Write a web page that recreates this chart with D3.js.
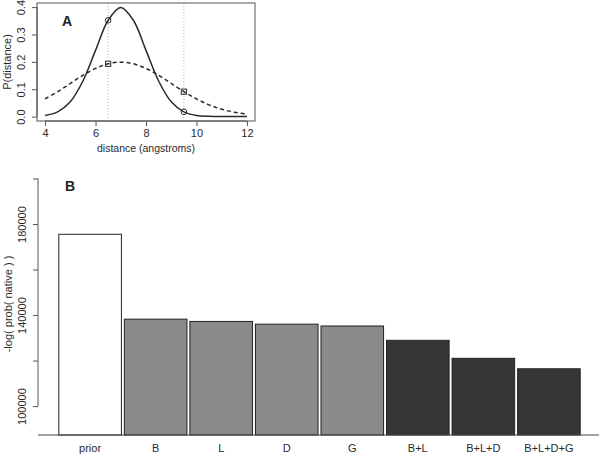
<!DOCTYPE html>
<html>
<head>
<meta charset="utf-8">
<script src="https://cdn.jsdelivr.net/npm/d3@7"></script>
<style>
  body { margin: 0; background: #fff; }
  svg { font-family: "Liberation Sans", Arial, sans-serif; }
</style>
</head>
<body>
<div id="chart"></div>
<script>
// panel A: densities (x in angstroms)
const distX = [4, 4.5, 5, 5.5, 6, 6.5, 7, 7.5, 8, 8.5, 9, 9.5, 10, 10.5, 11, 11.5, 12];
const narrowP = [0.0044, 0.0175, 0.054, 0.130, 0.242, 0.352, 0.399, 0.352, 0.242, 0.130, 0.054, 0.0175, 0.0044, 0.0009, 0.0001, 0, 0];
const wideP = [0.065, 0.091, 0.121, 0.151, 0.176, 0.193, 0.199, 0.193, 0.176, 0.151, 0.121, 0.091, 0.065, 0.043, 0.027, 0.016, 0.009];
const markX = [6.5, 9.5];
const circleP = [0.352, 0.0175];
const squareP = [0.193, 0.091];
const aXTicks = [4, 6, 8, 10, 12];
const aYTicks = [0.0, 0.1, 0.2, 0.3, 0.4];

// panel B: bars
const models = ["prior", "B", "L", "D", "G", "B+L", "B+L+D", "B+L+D+G"];
const energy = [175500, 138200, 137200, 136000, 135200, 128900, 121000, 116400];
const group = ["prior", "single", "single", "single", "single", "combo", "combo", "combo"];
const bYTicks = [100000, 120000, 140000, 160000, 180000, 200000];
const bYLabels = [100000, 140000, 180000];

const W = 600, H = 455;
const ink = "#2a2a2a";

let svg = d3.select("#chart").append("svg")
    .attr("width", W)
    .attr("height", H);

// ---------- panel A ----------
let xA = d3.scaleLinear().domain([3.68, 12.32]).range([37, 255]);
let yA = d3.scaleLinear().domain([-0.016, 0.415]).range([121, 3]);

let gA = svg.append("g");

// dotted verticals
gA.selectAll("line.vline").data(markX).enter()
    .append("line")
    .attr("class", "vline")
    .attr("x1", d => xA(d)).attr("x2", d => xA(d))
    .attr("y1", yA.range()[0]).attr("y2", yA.range()[1])
    .attr("stroke", "#999")
    .attr("stroke-width", 0.8)
    .attr("stroke-dasharray", "1,2");

let line = d3.line()
    .x((d, i) => xA(distX[i]))
    .y(d => yA(d))
    .curve(d3.curveCatmullRom);

gA.append("path")
    .attr("d", line(narrowP))
    .attr("fill", "none")
    .attr("stroke", ink)
    .attr("stroke-width", 1.5);

gA.append("path")
    .attr("d", line(wideP))
    .attr("fill", "none")
    .attr("stroke", ink)
    .attr("stroke-width", 1.5)
    .attr("stroke-dasharray", "4,3");

gA.selectAll("circle.pt").data(circleP).enter()
    .append("circle")
    .attr("class", "pt")
    .attr("cx", (d, i) => xA(markX[i]))
    .attr("cy", d => yA(d))
    .attr("r", 2.8)
    .attr("fill", "none")
    .attr("stroke", ink)
    .attr("stroke-width", 1);

gA.selectAll("rect.pt").data(squareP).enter()
    .append("rect")
    .attr("class", "pt")
    .attr("x", (d, i) => xA(markX[i]) - 2.6)
    .attr("y", d => yA(d) - 2.6)
    .attr("width", 5.2)
    .attr("height", 5.2)
    .attr("fill", "none")
    .attr("stroke", ink)
    .attr("stroke-width", 1);

// frame
gA.append("rect")
    .attr("x", xA.range()[0]).attr("y", yA.range()[1])
    .attr("width", xA.range()[1] - xA.range()[0])
    .attr("height", yA.range()[0] - yA.range()[1])
    .attr("fill", "none")
    .attr("stroke", "#555")
    .attr("stroke-width", 1);

// x axis
let axA = gA.append("g")
    .attr("transform", `translate(0, ${yA.range()[0]})`)
    .call(d3.axisBottom(xA).tickValues(aXTicks).tickSize(5).tickPadding(3));
axA.select(".domain")
    .attr("d", `M${xA(4)},0H${xA(12)}`);

// y axis
let ayA = gA.append("g")
    .attr("transform", `translate(${xA.range()[0]}, 0)`)
    .call(d3.axisLeft(yA).tickValues(aYTicks).tickFormat(d3.format(".1f")).tickSize(5).tickPadding(3));
ayA.select(".domain")
    .attr("d", `M0,${yA(0)}V${yA(0.4)}`);
ayA.selectAll(".tick text")
    .attr("transform", "rotate(-90)")
    .attr("x", 0).attr("y", -12)
    .attr("dy", 0)
    .style("text-anchor", "middle");

gA.append("text")
    .attr("x", 146).attr("y", 152)
    .style("text-anchor", "middle")
    .style("font-size", "10.5px")
    .attr("fill", ink)
    .text("distance (angstroms)");

gA.append("text")
    .attr("transform", `translate(11, ${(yA.range()[0] + yA.range()[1]) / 2}) rotate(-90)`)
    .style("text-anchor", "middle")
    .style("font-size", "11px")
    .attr("fill", ink)
    .text("P(distance)");

gA.append("text")
    .attr("x", 62).attr("y", 26)
    .style("font-size", "14px")
    .style("font-weight", "bold")
    .attr("fill", "#222")
    .text("A");

// ---------- panel B ----------
let xB = d3.scaleBand().domain(models).range([57.5, 581.5]).paddingInner(0.045).paddingOuter(0.02);
let yB = d3.scaleLinear().domain([87300, 200000]).range([435, 178.5]);

let gB = svg.append("g");

let fill = { prior: "#fff", single: "#8a8a8a", combo: "#363636" };

gB.selectAll("rect.bar").data(energy).enter()
    .append("rect")
    .attr("class", "bar")
    .attr("x", (d, i) => xB(models[i]))
    .attr("y", d => yB(d))
    .attr("width", xB.bandwidth())
    .attr("height", d => yB(87300) - yB(d))
    .attr("fill", (d, i) => fill[group[i]])
    .attr("stroke", "#222")
    .attr("stroke-width", 1);

// baseline
gB.append("line")
    .attr("x1", 38).attr("x2", 599)
    .attr("y1", yB(87300)).attr("y2", yB(87300))
    .attr("stroke", "#444")
    .attr("stroke-width", 1);

// y axis
let ayB = gB.append("g")
    .attr("transform", "translate(38, 0)")
    .call(d3.axisLeft(yB).tickValues(bYTicks)
        .tickFormat(d => bYLabels.includes(d) ? d : "")
        .tickSize(5).tickPadding(3));
ayB.select(".domain")
    .attr("d", `M0,${yB(100000)}V${yB(200000)}`);
ayB.selectAll(".tick text")
    .attr("transform", "rotate(-90)")
    .attr("x", 0).attr("y", -12)
    .attr("dy", 0)
    .style("text-anchor", "middle");

// category labels
gB.selectAll("text.cat").data(models).enter()
    .append("text")
    .attr("class", "cat")
    .attr("x", d => xB(d) + xB.bandwidth() / 2)
    .attr("y", 452)
    .style("text-anchor", "middle")
    .style("font-size", "11px")
    .attr("fill", ink)
    .text(d => d);

gB.append("text")
    .attr("transform", "translate(12, 304) rotate(-90)")
    .style("text-anchor", "middle")
    .style("font-size", "11px")
    .attr("fill", ink)
    .text("-log( prob( native ) )");

gB.append("text")
    .attr("x", 65).attr("y", 191)
    .style("font-size", "14px")
    .style("font-weight", "bold")
    .attr("fill", "#222")
    .text("B");

svg.selectAll(".tick text").style("font-size", "11px").attr("fill", ink);
svg.selectAll(".tick line, .domain").attr("stroke", "#555");
</script>
</body>
</html>
